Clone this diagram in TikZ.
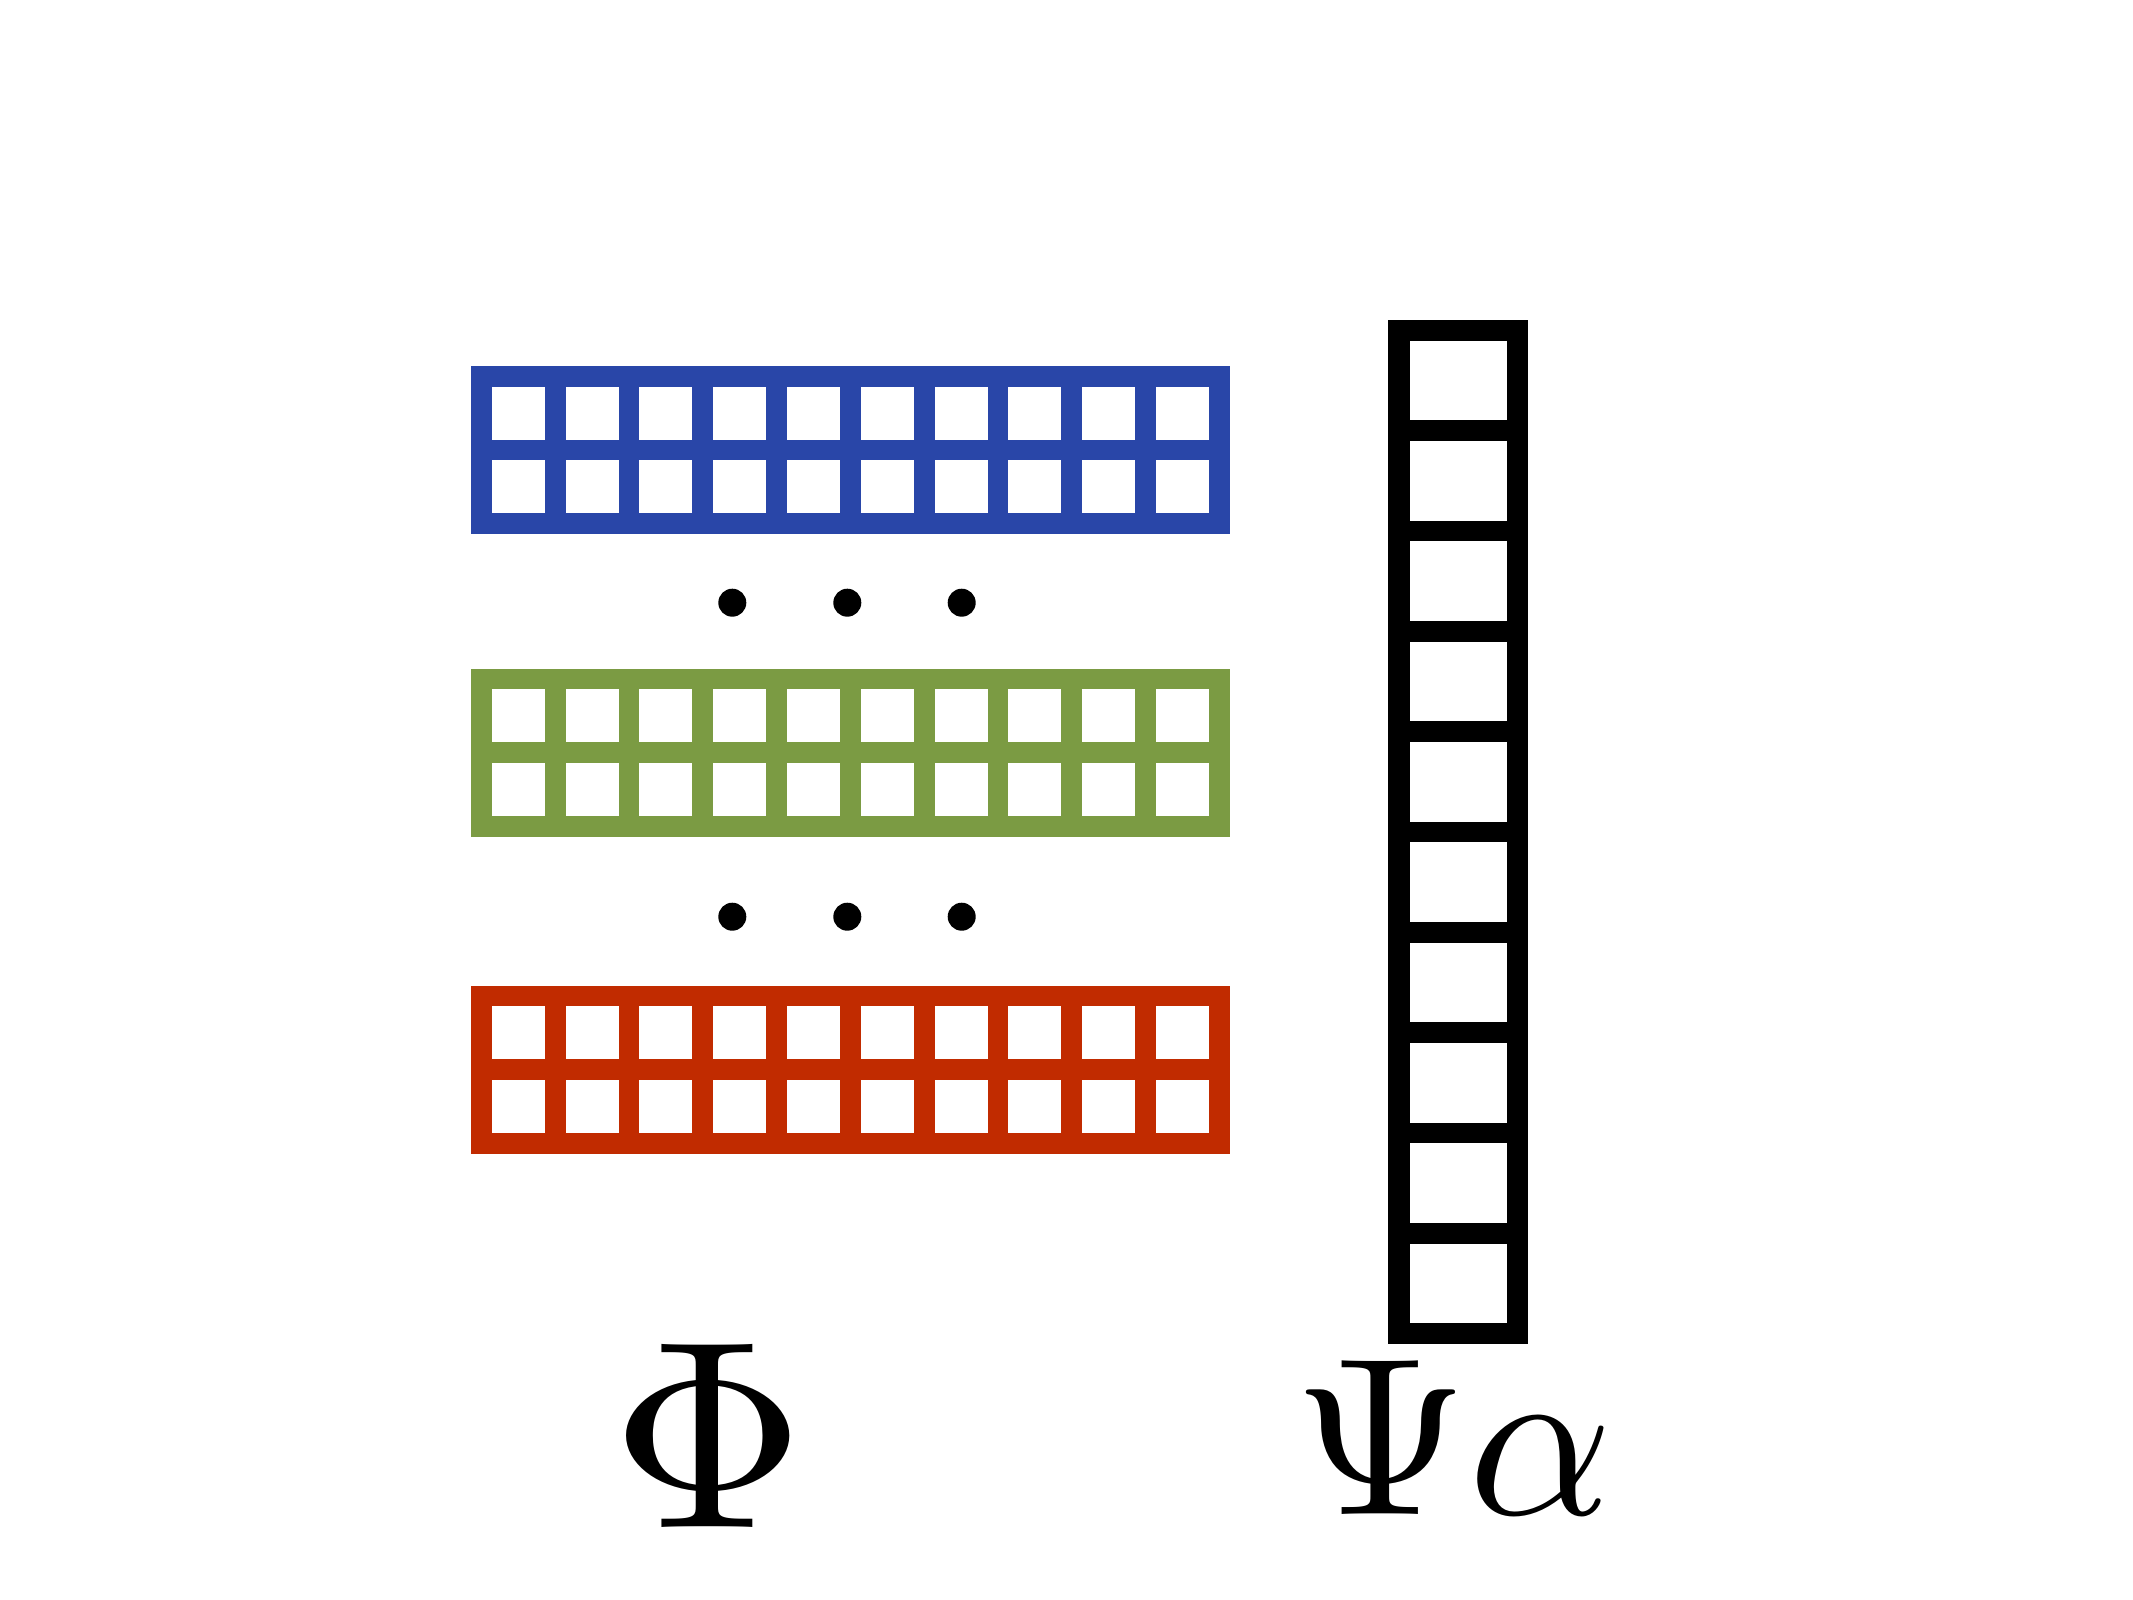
\documentclass[tikz,border=0pt]{standalone}
\usepackage{graphicx}
\definecolor{gblue}{RGB}{41,70,168}
\definecolor{ggreen}{RGB}{123,155,67}
\definecolor{gred}{RGB}{193,43,0}
\tikzset{
  bar/.style={fill=#1, draw=none},
  dotmark/.style={fill=black, draw=none},
  lbl/.style={inner sep=0pt, anchor=base, text=black}
}
\newcommand{\cellgrid}[2]{%
  \foreach \j in {0,1,2}{
    \path[bar=#1] (471,{#2+\j*73.65}) rectangle (1229.7,{#2+\j*73.65+20.7});
  }
  \foreach \k in {0,...,10}{
    \path[bar=#1] ({471+\k*73.8},#2) rectangle ({471+\k*73.8+20.7},{#2+168});
  }
}
\begin{document}
\begin{tikzpicture}[x=0.01cm,y=-0.01cm]
\useasboundingbox (0,0) rectangle (2133,1600);
\fill[white] (0,0) rectangle (2133,1600);
% grids
\cellgrid{gblue}{366}
\cellgrid{ggreen}{668.7}
\cellgrid{gred}{985.7}
% dots
\foreach \x in {732.3,847.3,961.7}{
  \fill[dotmark] (\x,602.7) circle (14);
  \fill[dotmark] (\x,916.7) circle (14);
}
% black column
\path[bar=black] (1388.3,320) rectangle (1409.7,1344);
\path[bar=black] (1507,320) rectangle (1527.7,1344);
\foreach \k in {0,...,10}{
  \path[bar=black] (1388.3,{320+\k*100.33}) rectangle (1527.7,{320+\k*100.33+20.7});
}
% labels
\node[lbl] (phi) at (708.5,1527) {\scalebox{7.625}{$\Phi$}};
\node[lbl, anchor=base west] (psi) at (1293,1514) {\scalebox{6.4}{$\Psi\alpha$}};
\end{tikzpicture}
\end{document}
